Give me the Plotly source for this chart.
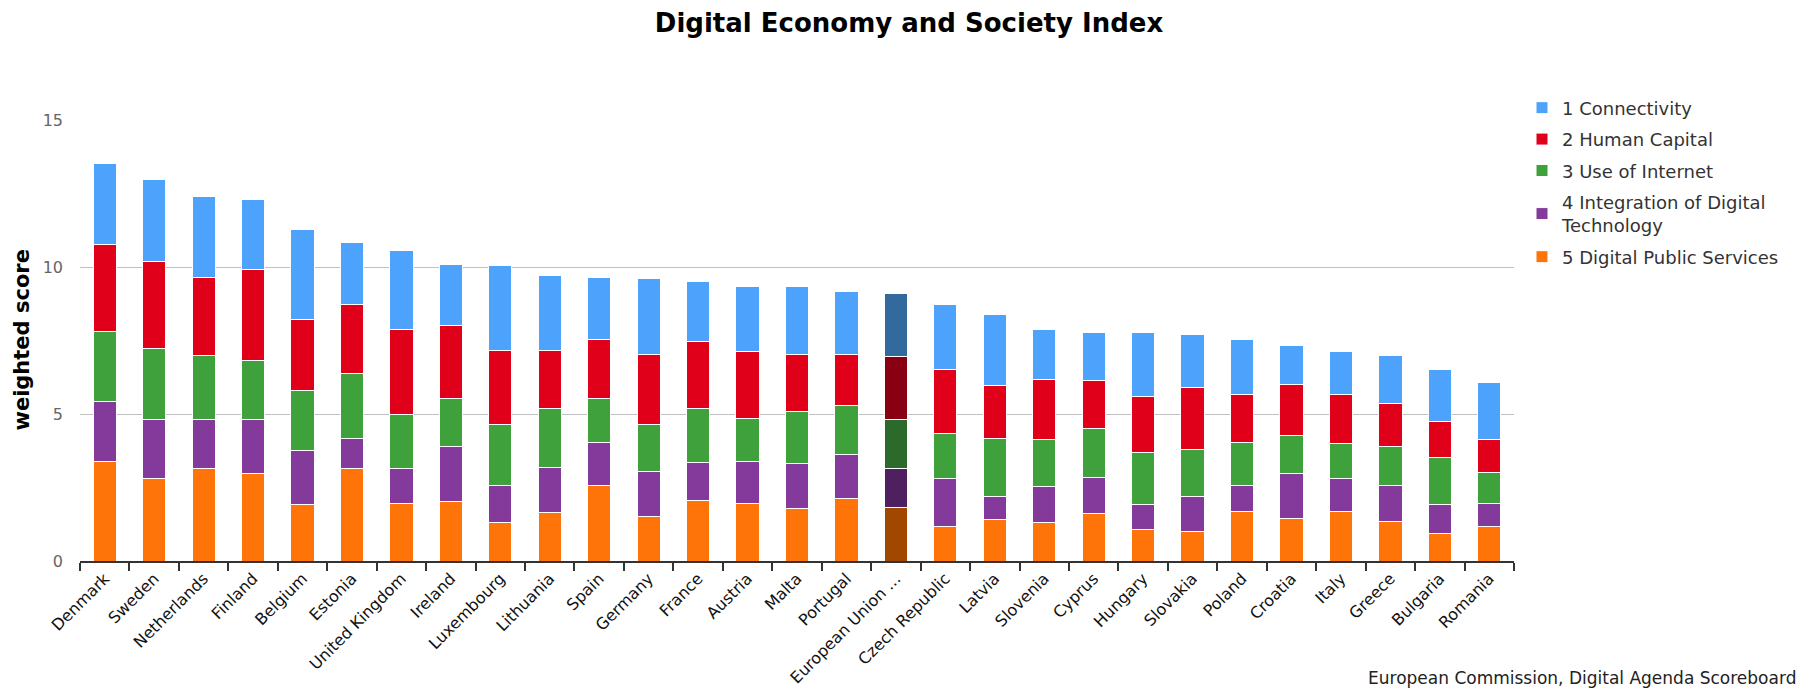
import plotly.graph_objects as go

countries = ["Denmark", "Sweden", "Netherlands", "Finland", "Belgium", "Estonia",
             "United Kingdom", "Ireland", "Luxembourg", "Lithuania", "Spain", "Germany",
             "France", "Austria", "Malta", "Portugal", "European Union ...", "Czech Republic",
             "Latvia", "Slovenia", "Cyprus", "Hungary", "Slovakia", "Poland", "Croatia",
             "Italy", "Greece", "Bulgaria", "Romania"]

digital_public_services = [3.37, 2.82, 3.14, 2.99, 1.91, 3.14, 1.94, 2.02, 1.30, 1.64, 2.57, 1.50,
                           2.06, 1.97, 1.78, 2.11, 1.83, 1.18, 1.41, 1.30, 1.63, 1.07, 1.02, 1.67,
                           1.45, 1.67, 1.36, 0.92, 1.17]
integration_digital_tech = [2.04, 1.98, 1.66, 1.81, 1.84, 1.03, 1.20, 1.89, 1.27, 1.54, 1.45, 1.56,
                            1.29, 1.43, 1.52, 1.51, 1.30, 1.62, 0.78, 1.22, 1.22, 0.84, 1.17, 0.90,
                            1.51, 1.14, 1.21, 0.99, 0.80]
use_of_internet = [2.41, 2.43, 2.18, 2.01, 2.06, 2.20, 1.83, 1.63, 2.06, 2.01, 1.51, 1.57,
                   1.84, 1.46, 1.78, 1.68, 1.67, 1.55, 1.98, 1.61, 1.67, 1.78, 1.60, 1.45,
                   1.32, 1.19, 1.34, 1.60, 1.04]
human_capital = [2.94, 2.96, 2.66, 3.10, 2.40, 2.37, 2.91, 2.48, 2.54, 1.98, 1.99, 2.38,
                 2.27, 2.26, 1.93, 1.71, 2.16, 2.18, 1.80, 2.04, 1.62, 1.92, 2.11, 1.64,
                 1.72, 1.67, 1.45, 1.23, 1.13]
connectivity = [2.76, 2.77, 2.77, 2.38, 3.08, 2.10, 2.68, 2.05, 2.89, 2.55, 2.14, 2.60,
                2.06, 2.21, 2.32, 2.15, 2.14, 2.18, 2.41, 1.71, 1.62, 2.15, 1.81, 1.88,
                1.32, 1.44, 1.64, 1.77, 1.92]

series_names = ["5 Digital Public Services", "4 Integration of Digital<br>Technology",
                "3 Use of Internet", "2 Human Capital", "1 Connectivity"]
series_values = [digital_public_services, integration_digital_tech, use_of_internet,
                 human_capital, connectivity]
legend_ranks = [5, 4, 3, 2, 1]
base_colors = ["#ff7409", "#833a9a", "#3fa13b", "#e0001a", "#4da3fb"]
eu_colors = ["#a04800", "#4e2060", "#2b6a2a", "#8a0013", "#336a9e"]

highlight = "European Union ..."

W, H = 1802, 691
ML, MR, MT, MB = 72, 296, 112, 131
PW, PH = W - ML - MR, H - MT - MB

fig = go.Figure()
for name, vals, col, eucol, rank in zip(series_names, series_values, base_colors, eu_colors, legend_ranks):
    colors = [eucol if c == highlight else col for c in countries]
    fig.add_trace(go.Bar(
        x=countries, y=vals, name=name, legendgroup=name, legendrank=rank,
        marker=dict(color=colors, line=dict(color="#ffffff", width=1)),
    ))

fig.update_layout(
    barmode="stack",
    bargap=0.53,
    width=W, height=H,
    paper_bgcolor="white", plot_bgcolor="white",
    margin=dict(l=ML, r=MR, t=MT, b=MB),
    font=dict(family="DejaVu Sans", color="#333333"),
    title=dict(text="<b>Digital Economy and Society Index</b>", x=0.5, xanchor="center",
               y=1 - 15 / H, yanchor="middle", yref="container",
               font=dict(family="DejaVu Sans", size=26, color="#000000")),
    legend=dict(x=(1514 - ML) / PW, xanchor="left", y=(MT + PH - 81) / PH, yanchor="top",
                traceorder="grouped", tracegroupgap=5,
                font=dict(family="DejaVu Sans", size=18, color="#333333"),
                bgcolor="rgba(0,0,0,0)"),
    showlegend=True,
)

fig.update_xaxes(
    type="category", showgrid=False, showline=True, linecolor="#333333", linewidth=2,
    ticks="outside", tickson="boundaries", ticklen=8, tickwidth=2, tickcolor="#333333",
    tickangle=-45, tickfont=dict(family="DejaVu Sans", size=16, color="#111111"),
)
fig.update_yaxes(
    range=[0, 15], tickvals=[0, 5, 10, 15], showgrid=True, gridcolor="#c0c0c0", gridwidth=1,
    zeroline=False, showline=False, ticklabelstandoff=16,
    tickfont=dict(family="DejaVu Sans", size=16, color="#666666"),
)

fig.add_annotation(text="<b>weighted score</b>", xref="paper", yref="paper",
                   x=(13 - ML) / PW, y=0.5, textangle=-90, showarrow=False,
                   xanchor="center", yanchor="middle",
                   font=dict(family="DejaVu Sans", size=21, color="#000000"))
fig.add_annotation(text="European Commission, Digital Agenda Scoreboard", xref="paper", yref="paper",
                   x=(1790 - ML) / PW, y=(MT + PH - 679) / PH, showarrow=False,
                   xanchor="right", yanchor="middle",
                   font=dict(family="DejaVu Sans", size=17, color="#222222"))

fig.write_html("out.html")
